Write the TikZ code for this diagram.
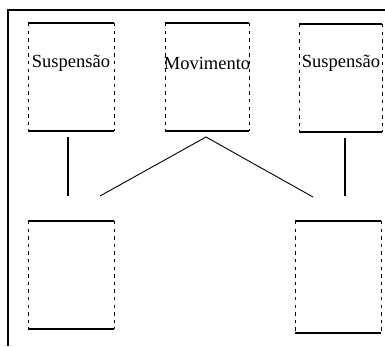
\documentclass[tikz,border=0pt]{standalone}
\usepackage{fontspec}
\setmainfont{Liberation Serif}
\begin{document}
\begin{tikzpicture}[x=1pt,y=-1pt,
  panel/.style={inner sep=0pt, outer sep=0pt},
  sidedash/.style={line width=0.8pt, dash pattern=on 3.3pt off 4.3pt},
  edge/.style={line width=1.1pt},
  link/.style={line width=0.9pt},
  post/.style={line width=1.2pt},
  lbl/.style={font=\fontsize{18.5}{21}\selectfont, inner sep=0pt}]
\useasboundingbox (0,0) rectangle (385,346);
% open frame: top and left sides only
\draw[line width=1.1pt] (385,10) -- (8,10) -- (8,346);
% panels
\node[panel, minimum width=86pt, minimum height=108pt] (p1) at (71,77) {};
\node[panel, minimum width=84pt, minimum height=108pt] (p2) at (207,77) {};
\node[panel, minimum width=83pt, minimum height=108pt] (p3) at (340.5,78) {};
\node[panel, minimum width=86pt, minimum height=108pt] (p4) at (71,275) {};
\node[panel, minimum width=86pt, minimum height=112pt] (p5) at (338,277) {};
% solid top/bottom edges, dashed sides
\foreach \p in {p1,p2,p3,p4,p5}{
  \draw[edge] (\p.north west) -- (\p.north east);
  \draw[edge] (\p.south west) -- (\p.south east);
  \draw[sidedash] (\p.north west) -- (\p.south west);
  \draw[sidedash] (\p.north east) -- (\p.south east);
}
% labels
\node[lbl] (t1) at (71,63) {Suspensão};
\node[lbl] (t2) at (207,63) {Movimento};
\node[lbl] (t3) at (341,63) {Suspensão};
% connectors (drawn with gaps to the panels)
\coordinate (apex) at ([xshift=-1pt,yshift=-6pt]p2.south);
\draw[post] ([xshift=-3pt,yshift=-6pt]p1.south) -- ([xshift=-3pt,yshift=25pt]p4.north);
\draw[link] ([xshift=29pt,yshift=25pt]p4.north) -- (apex) -- ([xshift=18pt,yshift=24pt]p5.north west);
\draw[post] ([xshift=4.5pt,yshift=-6pt]p3.south) -- ([xshift=7pt,yshift=25pt]p5.north);
\end{tikzpicture}
\end{document}
